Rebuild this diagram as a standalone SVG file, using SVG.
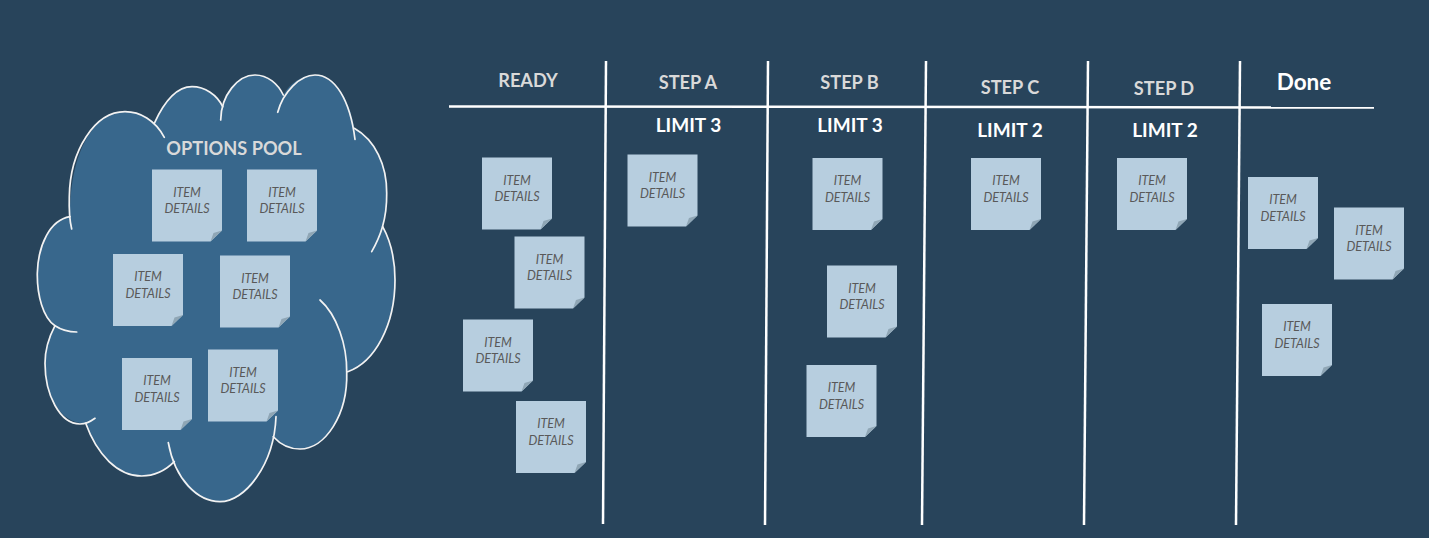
<svg xmlns="http://www.w3.org/2000/svg" width="1429" height="538" viewBox="0 0 1429 538">
<style>
text{font-family:"Lato","Carlito","Open Sans",sans-serif}
.h{font-weight:700;font-size:18.2px;fill:#D9D9D9;text-anchor:middle}
.l{font-weight:700;font-size:19px;fill:#FFFFFF;text-anchor:middle}
.t{font-style:italic;font-size:12.5px;fill:#595959;text-anchor:middle}
.lane{stroke:#FFFFFF;stroke-width:2.5;fill:none}
.cl{stroke:#F2F2F2;stroke-width:1.7;fill:none;stroke-linecap:round}
</style>
<defs>
<g id="note">
<polygon points="0,0 70,0 70,61 58.5,72 0,72" fill="#B7CEDF"/>
<polygon points="58.5,72 61.5,63.5 70,61" fill="#8FA6B5"/>
</g>
<g id="item">
<use href="#note"/>
<text class="t" x="35" y="27">ITEM</text>
<text class="t" x="35" y="43.5">DETAILS</text>
</g>
</defs>
<rect width="1429" height="538" fill="#28445B"/>
<g id="cloud">
<path fill="#38678C" d="M154.3 123.3C165 100 178 86.7 192 86.7C205 86.7 217 95 222.7 106.7C226 88 240 75 255 75C268 75 278 84 283.3 95C290 83 302 75 315 75C335 75 350 100 354.3 128.3C375 140 387 165 386.7 193.3C387 205 385 217 382.7 226.7C390 240 395 260 395 280C395 325 375 362 347.7 371.7C348 415 325 449 300 449C290 449 280 444 273.3 436.7C265 475 245 501.7 220 501.7C198 501.7 180 485 174.3 461.7C165 471 153 476 141.7 476C118 476 97 455 85.7 423.3C60 424 45 395 45 363.3C45 350 49 337 55 325.7C43 318 37 295 37.3 273.3C38 245 50 220 70 216.7C70 150 95 111.7 125 111.7C135 111.7 146 115 154.3 123.3Z"/>
<path class="cl" d="M154.3 123.3C165 100 178 86.7 192 86.7C205 86.7 217 95 222.7 106.7"/>
<path class="cl" d="M220.7 120C221 95 238 75 255 75C268 75 278 84 283.3 95"/>
<path class="cl" d="M277.7 112.3C283 92 300 75 315 75C335 75 350 100 355 139.3"/>
<path class="cl" d="M354.3 128.3C375 140 387 165 386.7 193.3C387 220 380 237 371.7 251.7"/>
<path class="cl" d="M382.7 226.7C390 240 395 260 395 280C395 325 375 362 347.7 371.7"/>
<path class="cl" d="M320 300C337 315 347 345 346.7 372C348 415 325 449 300 449C290 449 280 444 273.3 436.7"/>
<path class="cl" d="M276 416.7C274 465 245 501.7 220 501.7C198 501.7 175 480 168.3 442.7"/>
<path class="cl" d="M174.3 461.7C165 471 153 476 141.7 476C118 476 97 455 85.7 423.3"/>
<path class="cl" d="M95 418.3C90 422 85 424 80 424C60 424 45 395 45 363.3C45 350 49 337 55 325.7"/>
<path class="cl" d="M76.7 332C68 332 60 329 55 325.7C43 318 37 295 37.3 273.3C38 245 50 220 70 216.7"/>
<path class="cl" d="M71.7 229C69 218 69 207 69.3 196.7C70 150 95 111.7 125 111.7C140 111.7 155 120 164.3 137.3"/>
<text class="h" x="234" y="154.5">OPTIONS POOL</text>
</g>
<g id="connectors">
<line class="lane" x1="449" y1="106.5" x2="1374" y2="107.5"/>
<line class="lane" x1="606" y1="61" x2="603" y2="524"/>
<line class="lane" x1="768" y1="61" x2="765" y2="525"/>
<line class="lane" x1="926" y1="61" x2="922" y2="525"/>
<line class="lane" x1="1088" y1="61" x2="1084" y2="525"/>
<line class="lane" x1="1240" y1="61" x2="1236" y2="525"/>
</g>
<g id="headers">
<text class="h" x="528" y="86.7">READY</text>
<text class="h" x="688" y="89">STEP A</text>
<text class="h" x="849.5" y="89">STEP B</text>
<text class="h" x="1010" y="94">STEP C</text>
<text class="h" x="1164" y="94.7">STEP D</text>
<text class="l" x="1304" y="90" style="font-size:22.5px">Done</text>
<text class="l" x="688.5" y="131.5">LIMIT 3</text>
<text class="l" x="850" y="131.5">LIMIT 3</text>
<text class="l" x="1010" y="136.5">LIMIT 2</text>
<text class="l" x="1165" y="137">LIMIT 2</text>
</g>
<use id="pool-1" href="#item" transform="translate(152 169.5)"/>
<use id="pool-2" href="#item" transform="translate(247 169.5)"/>
<use id="pool-3" href="#item" transform="translate(113 254)"/>
<use id="pool-4" href="#item" transform="translate(220 255.5)"/>
<use id="pool-5" href="#item" transform="translate(122 358)"/>
<use id="pool-6" href="#item" transform="translate(208 349.5)"/>
<use id="ready-1" href="#item" transform="translate(482 157.5)"/>
<use id="ready-2" href="#item" transform="translate(514.5 236.5)"/>
<use id="ready-3" href="#item" transform="translate(463 319.5)"/>
<use id="ready-4" href="#item" transform="translate(516 401)"/>
<use id="step-a-1" href="#item" transform="translate(627.5 154.5)"/>
<use id="step-b-1" href="#item" transform="translate(812.5 158)"/>
<use id="step-b-2" href="#item" transform="translate(827 265.5)"/>
<use id="step-b-3" href="#item" transform="translate(806.5 365)"/>
<use id="step-c-1" href="#item" transform="translate(971 158)"/>
<use id="step-d-1" href="#item" transform="translate(1117 158)"/>
<use id="done-1" href="#item" transform="translate(1248 177)"/>
<use id="done-2" href="#item" transform="translate(1334 207.5)"/>
<use id="done-3" href="#item" transform="translate(1262 304)"/>
</svg>
